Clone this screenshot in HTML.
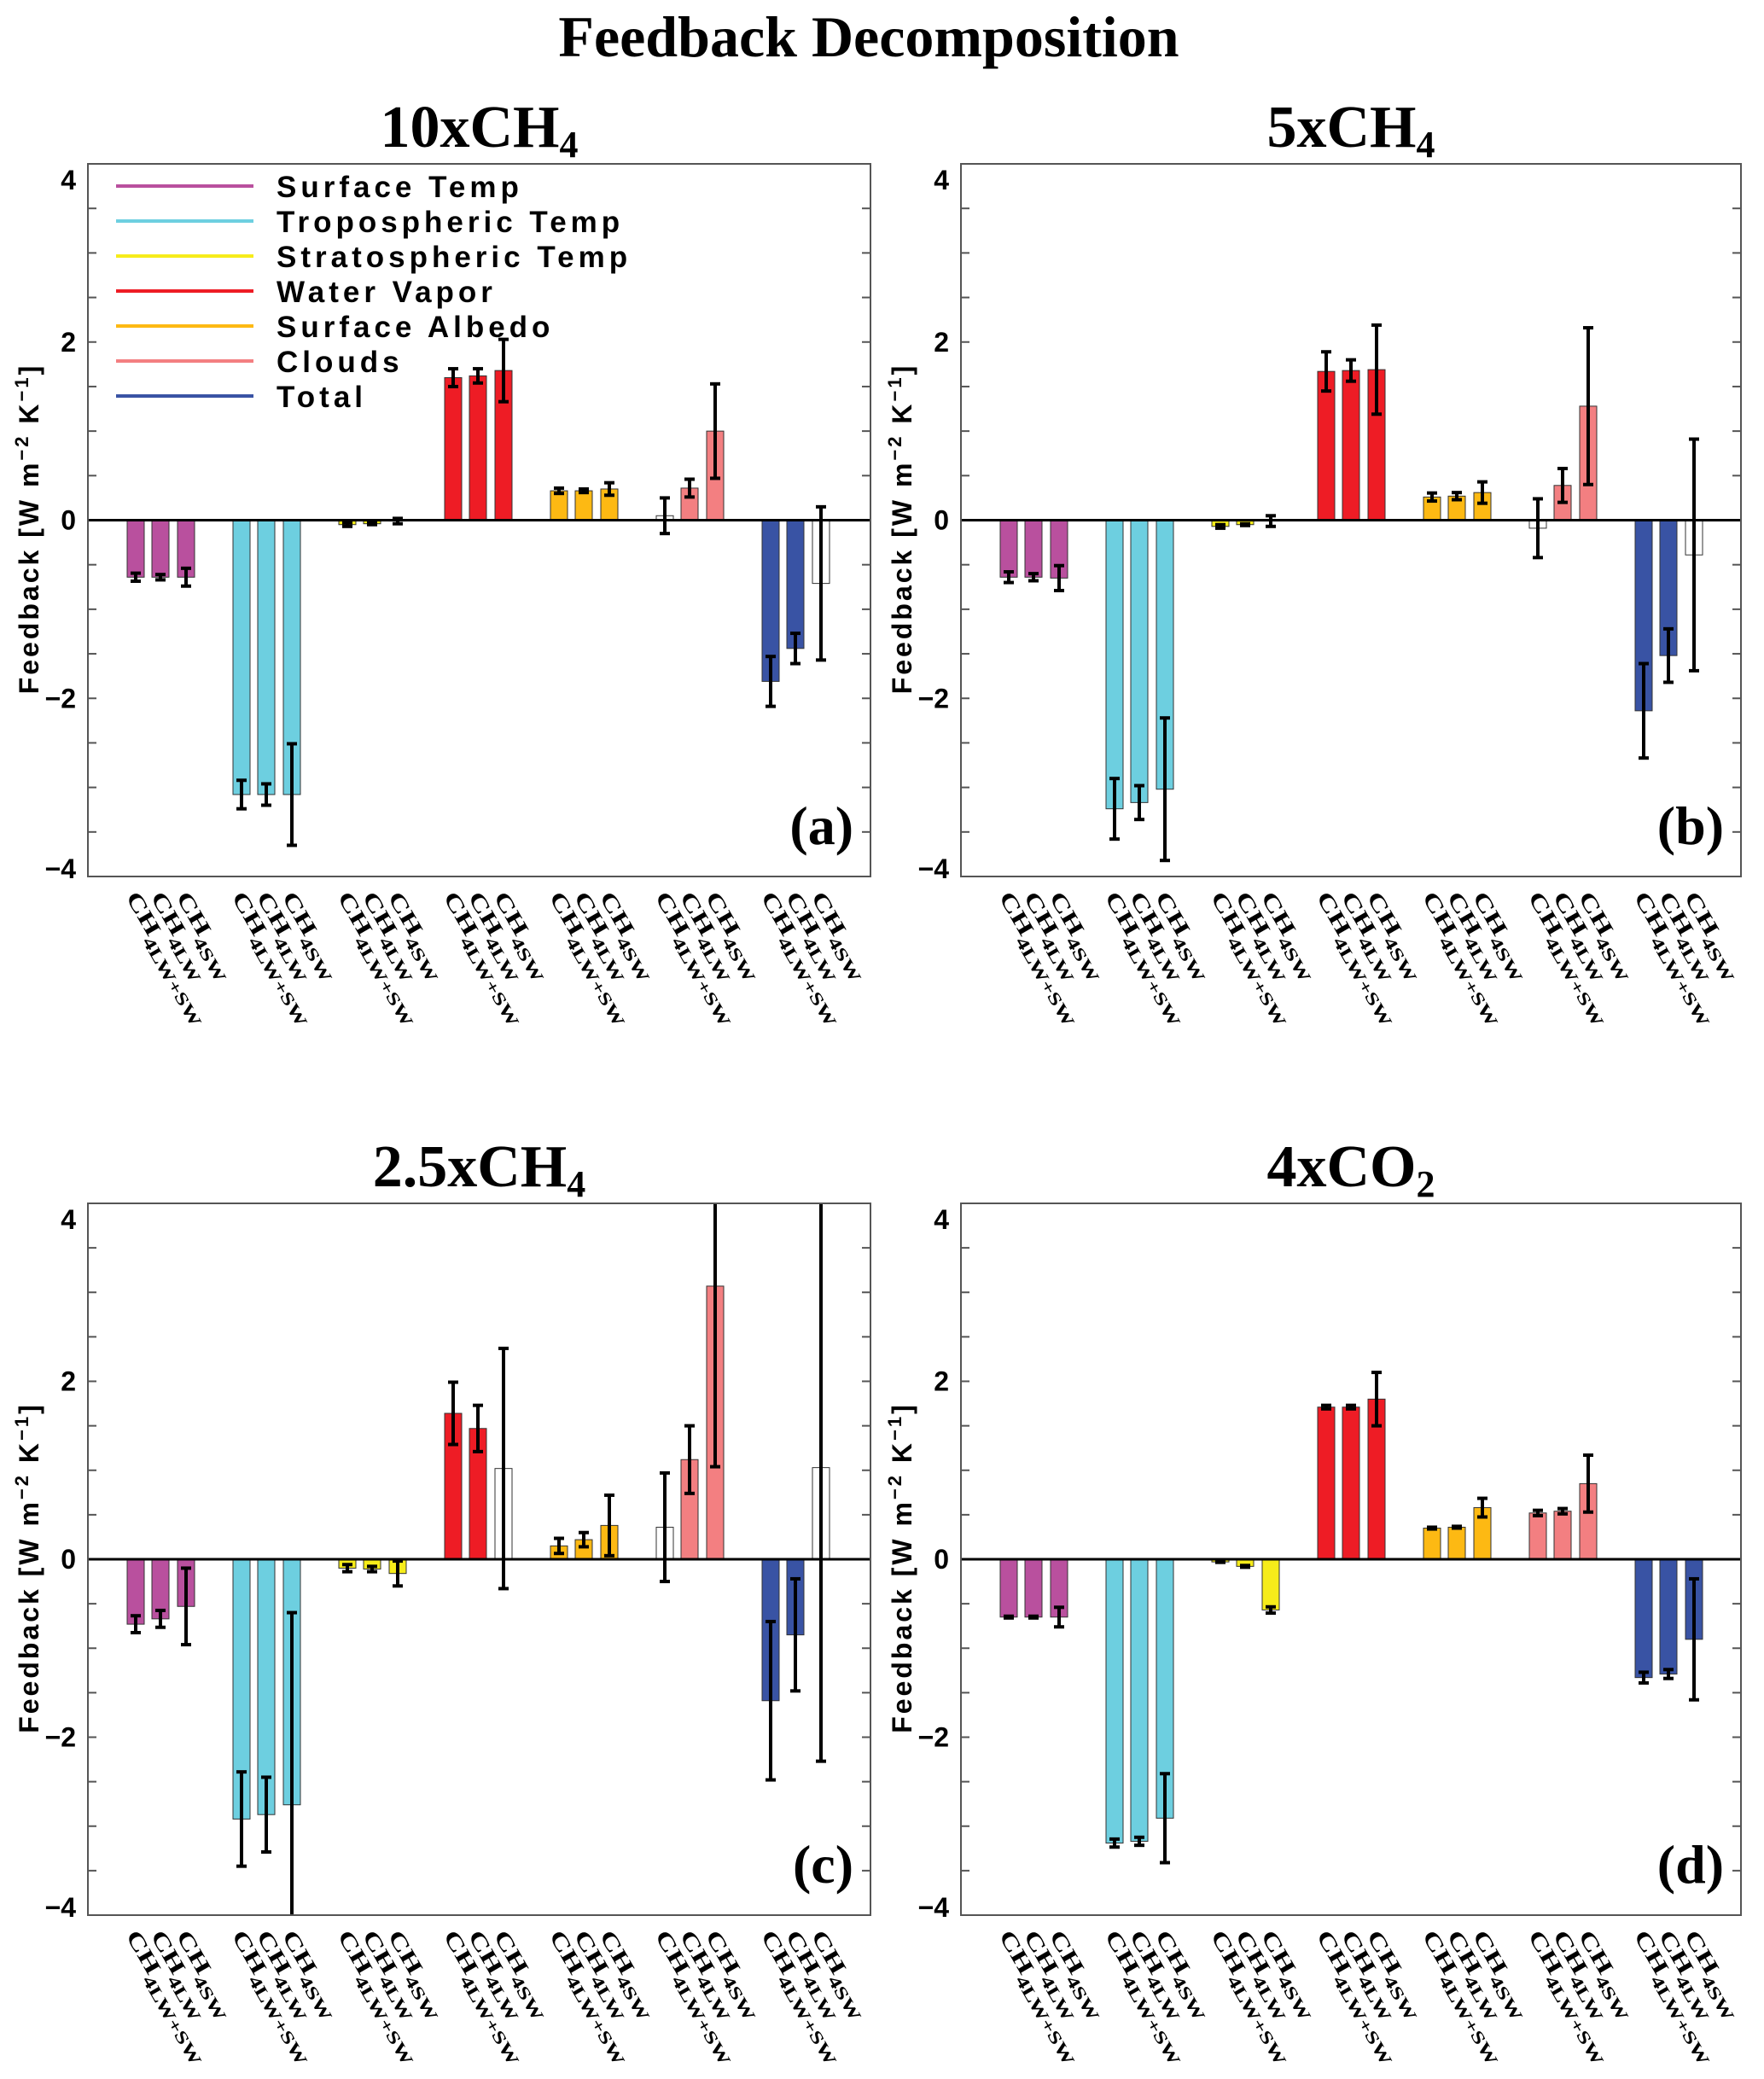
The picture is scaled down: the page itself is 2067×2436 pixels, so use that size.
<!DOCTYPE html>
<html><head><meta charset="utf-8">
<style>
html,body{margin:0;padding:0;background:#fff;}
svg{display:block;}
.serif{font-family:"Liberation Serif",serif;font-weight:bold;}
.sans{font-family:"Liberation Sans",sans-serif;font-weight:bold;}
</style></head>
<body>
<svg id="fig" width="2067" height="2436" viewBox="0 0 2067 2436" xmlns="http://www.w3.org/2000/svg">
<text class="serif" x="1018" y="66" font-size="68" text-anchor="middle">Feedback Decomposition</text>
</svg>
<script>
// categories and series data
const groups = ["Surface Temp","Tropospheric Temp","Stratospheric Temp","Water Vapor","Surface Albedo","Clouds","Total"];
const kernels = ["4LW+SW","4LW","4SW"];
const groupColors = ["#b9509e","#6dcfe0","#f6ec1a","#ee1c25","#fdb913","#f37f81","#3953a4"];
const yTicks = [4,2,0,-2,-4];
const panelTitles = ["10xCH", "5xCH", "2.5xCH", "4xCO"];
const panelSubs = ["4","4","4","2"];
const panelLetters = ["(a)","(b)","(c)","(d)"];

const valsA = [-0.64,-0.64,-0.64, -3.08,-3.08,-3.08, -0.05,-0.04,-0.01, 1.60,1.62,1.68, 0.33,0.33,0.35, 0.05,0.36,1.00, -1.81,-1.44,-0.71];
const errA  = [0.045,0.03,0.10, 0.16,0.12,0.57, 0.02,0.01,0.03, 0.10,0.08,0.35, 0.03,0.02,0.07, 0.20,0.10,0.53, 0.28,0.17,0.86];
const whiteA = [15,20];

const valsB = [-0.64,-0.64,-0.65, -3.24,-3.17,-3.02, -0.07,-0.05,-0.01, 1.67,1.68,1.69, 0.26,0.27,0.31, -0.09,0.39,1.28, -2.14,-1.52,-0.39];
const errB  = [0.06,0.04,0.14, 0.34,0.19,0.80, 0.02,0.01,0.06, 0.22,0.12,0.50, 0.045,0.04,0.12, 0.33,0.19,0.88, 0.53,0.30,1.30];
const whiteB = [15,20];

const valsC = [-0.73,-0.67,-0.53, -2.92,-2.87,-2.76, -0.10,-0.11,-0.16, 1.64,1.47,1.02, 0.15,0.22,0.38, 0.36,1.12,3.07, -1.59,-0.85,1.03];
const errC  = [0.095,0.095,0.43, 0.53,0.42,2.16, 0.04,0.03,0.14, 0.35,0.26,1.35, 0.085,0.08,0.34, 0.61,0.38,2.03, 0.89,0.63,3.30];
const whiteC = [11,15,20];

const valsD = [-0.65,-0.65,-0.65, -3.19,-3.17,-2.91, -0.03,-0.08,-0.57, 1.71,1.71,1.80, 0.35,0.36,0.58, 0.52,0.54,0.85, -1.33,-1.29,-0.90];
const errD  = [0.01,0.01,0.11, 0.045,0.045,0.50, 0.005,0.01,0.035, 0.02,0.02,0.30, 0.01,0.01,0.105, 0.03,0.03,0.32, 0.06,0.05,0.68];
const whiteD = [];

const NS = "http://www.w3.org/2000/svg";
const svg = document.getElementById("fig");
function mk(tag, attrs, parent){
  const e = document.createElementNS(NS, tag);
  for (const k in attrs) e.setAttribute(k, attrs[k]);
  (parent||svg).appendChild(e);
  return e;
}
const layout = [
  {x:103, y:192, w:917, h:835},
  {x:1126, y:192, w:914, h:835},
  {x:103, y:1410, w:917, h:834},
  {x:1126, y:1410, w:914, h:834}
];
const datasets = [[valsA,errA,whiteA],[valsB,errB,whiteB],[valsC,errC,whiteC],[valsD,errD,whiteD]];
const YMIN=-4, YMAX=4;

layout.forEach((P, pi) => {
  const g = mk("g", {});
  
  
  const yS = v => P.y + (YMAX - v) / (YMAX - YMIN) * P.h;
  const xS = (gi, j) => P.x + 46 + gi * 124 + [0,29,59][j];
  const cx = P.x + P.w/2;

  const t = mk("text", {x: cx, y: P.y - 20, "font-size": 70, "text-anchor": "middle", class: "serif"}, g);
  
  
  t.textContent = panelTitles[pi];
  const ts = mk("tspan", {"font-size": 44, dy: 12}, t);
  ts.textContent = panelSubs[pi];

  const cp = mk("clipPath", {id: "clip" + pi}, g);
  mk("rect", {x: P.x, y: P.y, width: P.w, height: P.h}, cp);

  for (let v = YMIN; v <= YMAX + 0.001; v += 0.5) {
    const yy = yS(v);
    const tl = mk("line", {x1: P.x, x2: P.x + 10, y1: yy, y2: yy, stroke: "#555", "stroke-width": 2}, g);
    
    
    const tr = mk("line", {x1: P.x + P.w - 10, x2: P.x + P.w, y1: yy, y2: yy, stroke: "#555", "stroke-width": 2}, g);
    
    
  }
  yTicks.forEach(v => {
    let yy = yS(v) + 11;
    if (v === YMAX) yy = yS(v) + 30;
    if (v === YMIN) yy = yS(v) + 2;
    const lb = mk("text", {x: P.x - 14, y: yy, "font-size": 32, "text-anchor": "end", class: "sans"}, g);
    
    
    lb.textContent = v < 0 ? "\u2212" + Math.abs(v) : String(v);
  });

  const yt = mk("text", {x: 0, y: 0, "font-size": 32, "text-anchor": "middle", class: "sans", "letter-spacing": 3,
    transform: "translate(" + (P.x - 58) + "," + (P.y + P.h/2 + 10) + ") rotate(-90)"}, g);
  
  
  yt.innerHTML = 'Feedback [W m<tspan dy="-12" font-size="22">\u22122</tspan><tspan dy="12"> K</tspan><tspan dy="-12" font-size="22">\u22121</tspan><tspan dy="12">]</tspan>';

  const [vals, errs, whites] = datasets[pi];
  const bg = mk("g", {"clip-path": "url(#clip" + pi + ")"}, g);
  vals.forEach((v, i) => {
    const gi = Math.floor(i / 3), j = i % 3;
    const x = xS(gi, j);
    const y0 = yS(0), y1 = yS(v);
    const white = whites.indexOf(i) >= 0;
    const r = mk("rect", {x: x, y: Math.min(y0, y1), width: 20, height: Math.max(1, Math.abs(y1 - y0)),
      fill: white ? "#fff" : groupColors[gi], stroke: "#333", "stroke-width": 1}, bg);
    
    
  });
  const zl = mk("line", {x1: P.x, x2: P.x + P.w, y1: yS(0), y2: yS(0), stroke: "#000", "stroke-width": 3}, g);
  
  
  vals.forEach((v, i) => {
    const gi = Math.floor(i / 3), j = i % 3;
    const xc = xS(gi, j) + 10;
    const yt2 = yS(v + errs[i]), yb = yS(v - errs[i]);
    const eg = mk("g", {stroke: "#000", "stroke-width": 4}, bg);
    
    
    mk("line", {x1: xc, x2: xc, y1: yt2, y2: yb}, eg);
    mk("line", {x1: xc - 6, x2: xc + 6, y1: yt2, y2: yt2}, eg);
    mk("line", {x1: xc - 6, x2: xc + 6, y1: yb, y2: yb}, eg);
  });

  const fr = mk("rect", {x: P.x, y: P.y, width: P.w, height: P.h, fill: "none", stroke: "#555", "stroke-width": 2}, g);
  
  

  for (let gi = 0; gi < groups.length; gi++) {
    for (let j = 0; j < 3; j++) {
      const xc = xS(gi, j);
      const lx = mk("text", {x: 0, y: 0, "font-size": 26, class: "serif",
        transform: "translate(" + (xc - 2) + "," + (P.y + P.h + 24) + ") rotate(60) scale(1.4,1)"}, g);
      
      
      lx.textContent = "CH";
      const sub = mk("tspan", {"font-size": 20, dy: 9}, lx);
      sub.textContent = kernels[j];
    }
  }

  const pl = mk("text", {x: P.x + P.w - 20, y: P.y + P.h - 38, "font-size": 64, "text-anchor": "end", class: "serif"}, g);
  
  
  pl.textContent = panelLetters[pi];

  if (pi === 0) {
    const lg = mk("g", {}, g);
    
    
    groups.forEach((name, k) => {
      const yy = 218 + k * 41;
      const le = mk("g", {}, lg);
      
      
      mk("line", {x1: 136, x2: 297, y1: yy, y2: yy, stroke: groupColors[k], "stroke-width": 4}, le);
      const tx = mk("text", {x: 324, y: yy + 13, "font-size": 35, class: "sans", "letter-spacing": 5}, le);
      tx.textContent = name;
    });
  }
});
</script>
</body></html>
